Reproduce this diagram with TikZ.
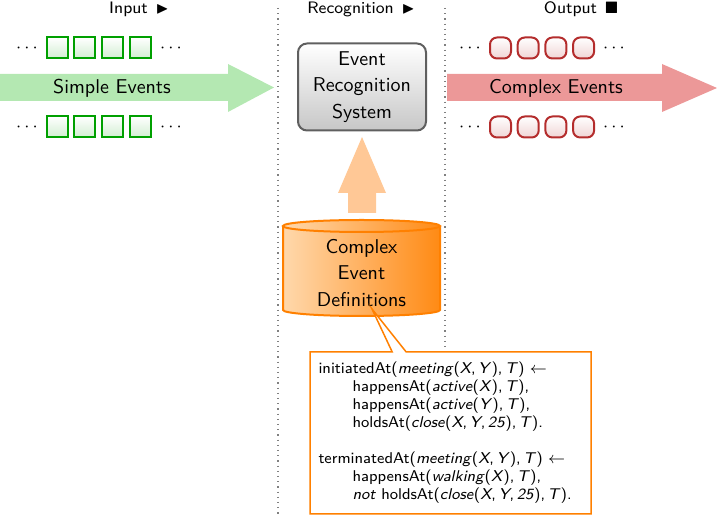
\documentclass[tikz,border=0pt]{standalone}
\usepackage{amssymb}
\usetikzlibrary{shapes.callouts}
\renewcommand{\familydefault}{\sfdefault}

\definecolor{evgreen}{RGB}{0,160,0}
\definecolor{arrowgreen}{RGB}{180,232,178}
\definecolor{evred}{RGB}{180,45,45}
\definecolor{arrowred}{RGB}{236,152,152}
\definecolor{deforange}{RGB}{255,128,0}
\definecolor{paleorange}{RGB}{255,216,172}
\definecolor{arroworange}{RGB}{255,200,150}
\definecolor{boxgray}{RGB}{95,95,95}

% italic argument in a rule
\newcommand{\ar}[1]{\textit{#1}}

\begin{document}
\begin{tikzpicture}[x=0.5pt, y=-0.5pt,
  simplebox/.style={draw=evgreen, line width=1pt, top color=white,
    bottom color=evgreen!18, minimum size=10.5pt, inner sep=0pt},
  complexbox/.style={draw=evred, line width=1pt, rounded corners=3.5pt,
    top color=white, bottom color=evred!20, minimum size=10.5pt, inner sep=0pt},
  dots/.style={inner sep=0pt, anchor=base, font=\fontsize{9}{10}\selectfont},
  phase/.style={inner sep=0pt, anchor=base, font=\fontsize{8.3}{10}\selectfont},
  bigtext/.style={font=\fontsize{10}{13.25}\selectfont, align=center},
  divider/.style={gray, dotted, line width=0.6pt}]

\useasboundingbox (0,0) rectangle (717,517);

% phase dividers
\draw[divider] (278,8) -- (278,517);
\draw[divider] (445,8) -- (445,517);

% phase labels
\node[phase] (input) at (139,14) {Input\hspace{4pt}$\blacktriangleright$};
\node[phase] (recog) at (361,14) {Recognition\hspace{4pt}$\blacktriangleright$};
\node[phase] (output) at (581,14) {Output\hspace{4pt}$\blacksquare$};

% input stream
\fill[arrowgreen] (0,74) -- (228,74) -- (228,64) -- (274,87.5) -- (228,112)
  -- (228,101) -- (0,101) -- cycle;
\node[bigtext] (simple) at (112,88) {Simple Events};
\foreach \i in {0,1,2,3} {
  \node[simplebox] (st\i) at (57+27.7*\i,48) {};
  \node[simplebox] (sb\i) at (57+27.7*\i,127) {};
}
\node[dots] (stl) at (27,52.5) {$\cdots$};
\node[dots] (str) at (171,52.5) {$\cdots$};
\node[dots] (sbl) at (27,131.5) {$\cdots$};
\node[dots] (sbr) at (171,131.5) {$\cdots$};

% output stream
\fill[arrowred] (447,74) -- (662,74) -- (662,64) -- (717,88) -- (662,112)
  -- (662,101) -- (447,101) -- cycle;
\node[bigtext] (complex) at (556,88) {Complex Events};
\foreach \i in {0,1,2,3} {
  \node[complexbox] (ct\i) at (500.5+27.7*\i,48) {};
  \node[complexbox] (cb\i) at (500.5+27.7*\i,127) {};
}
\node[dots] (ctl) at (470,52.5) {$\cdots$};
\node[dots] (ctr) at (614,52.5) {$\cdots$};
\node[dots] (cbl) at (470,131.5) {$\cdots$};
\node[dots] (cbr) at (614,131.5) {$\cdots$};

% recognition engine
\node[bigtext, draw=boxgray, line width=1pt, rounded corners=4.5pt,
  top color=white, bottom color=black!22, minimum width=64pt,
  minimum height=43.5pt, inner sep=0pt] (ers) at (362,87)
  {Event\\Recognition\\System};

% definitions feed the engine
\fill[arroworange] (362,137) -- (386,193) -- (376,193) -- (376,213)
  -- (348,213) -- (348,193) -- (338,193) -- cycle;

% definitions store
\path[left color=paleorange, right color=deforange!92]
  (283,226) -- (283,310) arc[start angle=180, end angle=360,
  x radius=39.25pt, y radius=3pt] -- (440,226) arc[start angle=0,
  end angle=180, x radius=39.25pt, y radius=3pt] -- cycle;
\draw[deforange, line width=1pt]
  (283,226) -- (283,310) arc[start angle=180, end angle=360,
  x radius=39.25pt, y radius=3pt] -- (440,226);
\draw[deforange, line width=1pt] (361.5,226) ellipse[x radius=39.25pt, y radius=3pt];
\node[bigtext] (defs) at (361.5,273) {Complex\\Event\\Definitions};

% example definitions
\coordinate (tip) at (372,309);
\node[rectangle callout, draw=deforange, fill=white, line width=0.75pt,
  callout absolute pointer={(tip)}, callout pointer width=7pt,
  minimum width=140.5pt, minimum height=81pt, inner xsep=4pt,
  text width=132pt, align=left, font=\fontsize{7.8}{9}\selectfont]
  (rules) at (450.5,433) {%
initiatedAt(\ar{meeting}(\ar{X},\,\ar{Y}),\,\ar{T}) $\leftarrow$\\
\hspace*{17pt}happensAt(\ar{active}(\ar{X}),\,\ar{T}),\\
\hspace*{17pt}happensAt(\ar{active}(\ar{Y}),\,\ar{T}),\\
\hspace*{17pt}holdsAt(\ar{close}(\ar{X},\,\ar{Y},\,\ar{25}),\,\ar{T}).\\[9pt]
terminatedAt(\ar{meeting}(\ar{X},\,\ar{Y}),\,\ar{T}) $\leftarrow$\\
\hspace*{17pt}happensAt(\ar{walking}(\ar{X}),\,\ar{T}),\\
\hspace*{17pt}\ar{not} holdsAt(\ar{close}(\ar{X},\,\ar{Y},\,\ar{25}),\,\ar{T}).};

\end{tikzpicture}
\end{document}
